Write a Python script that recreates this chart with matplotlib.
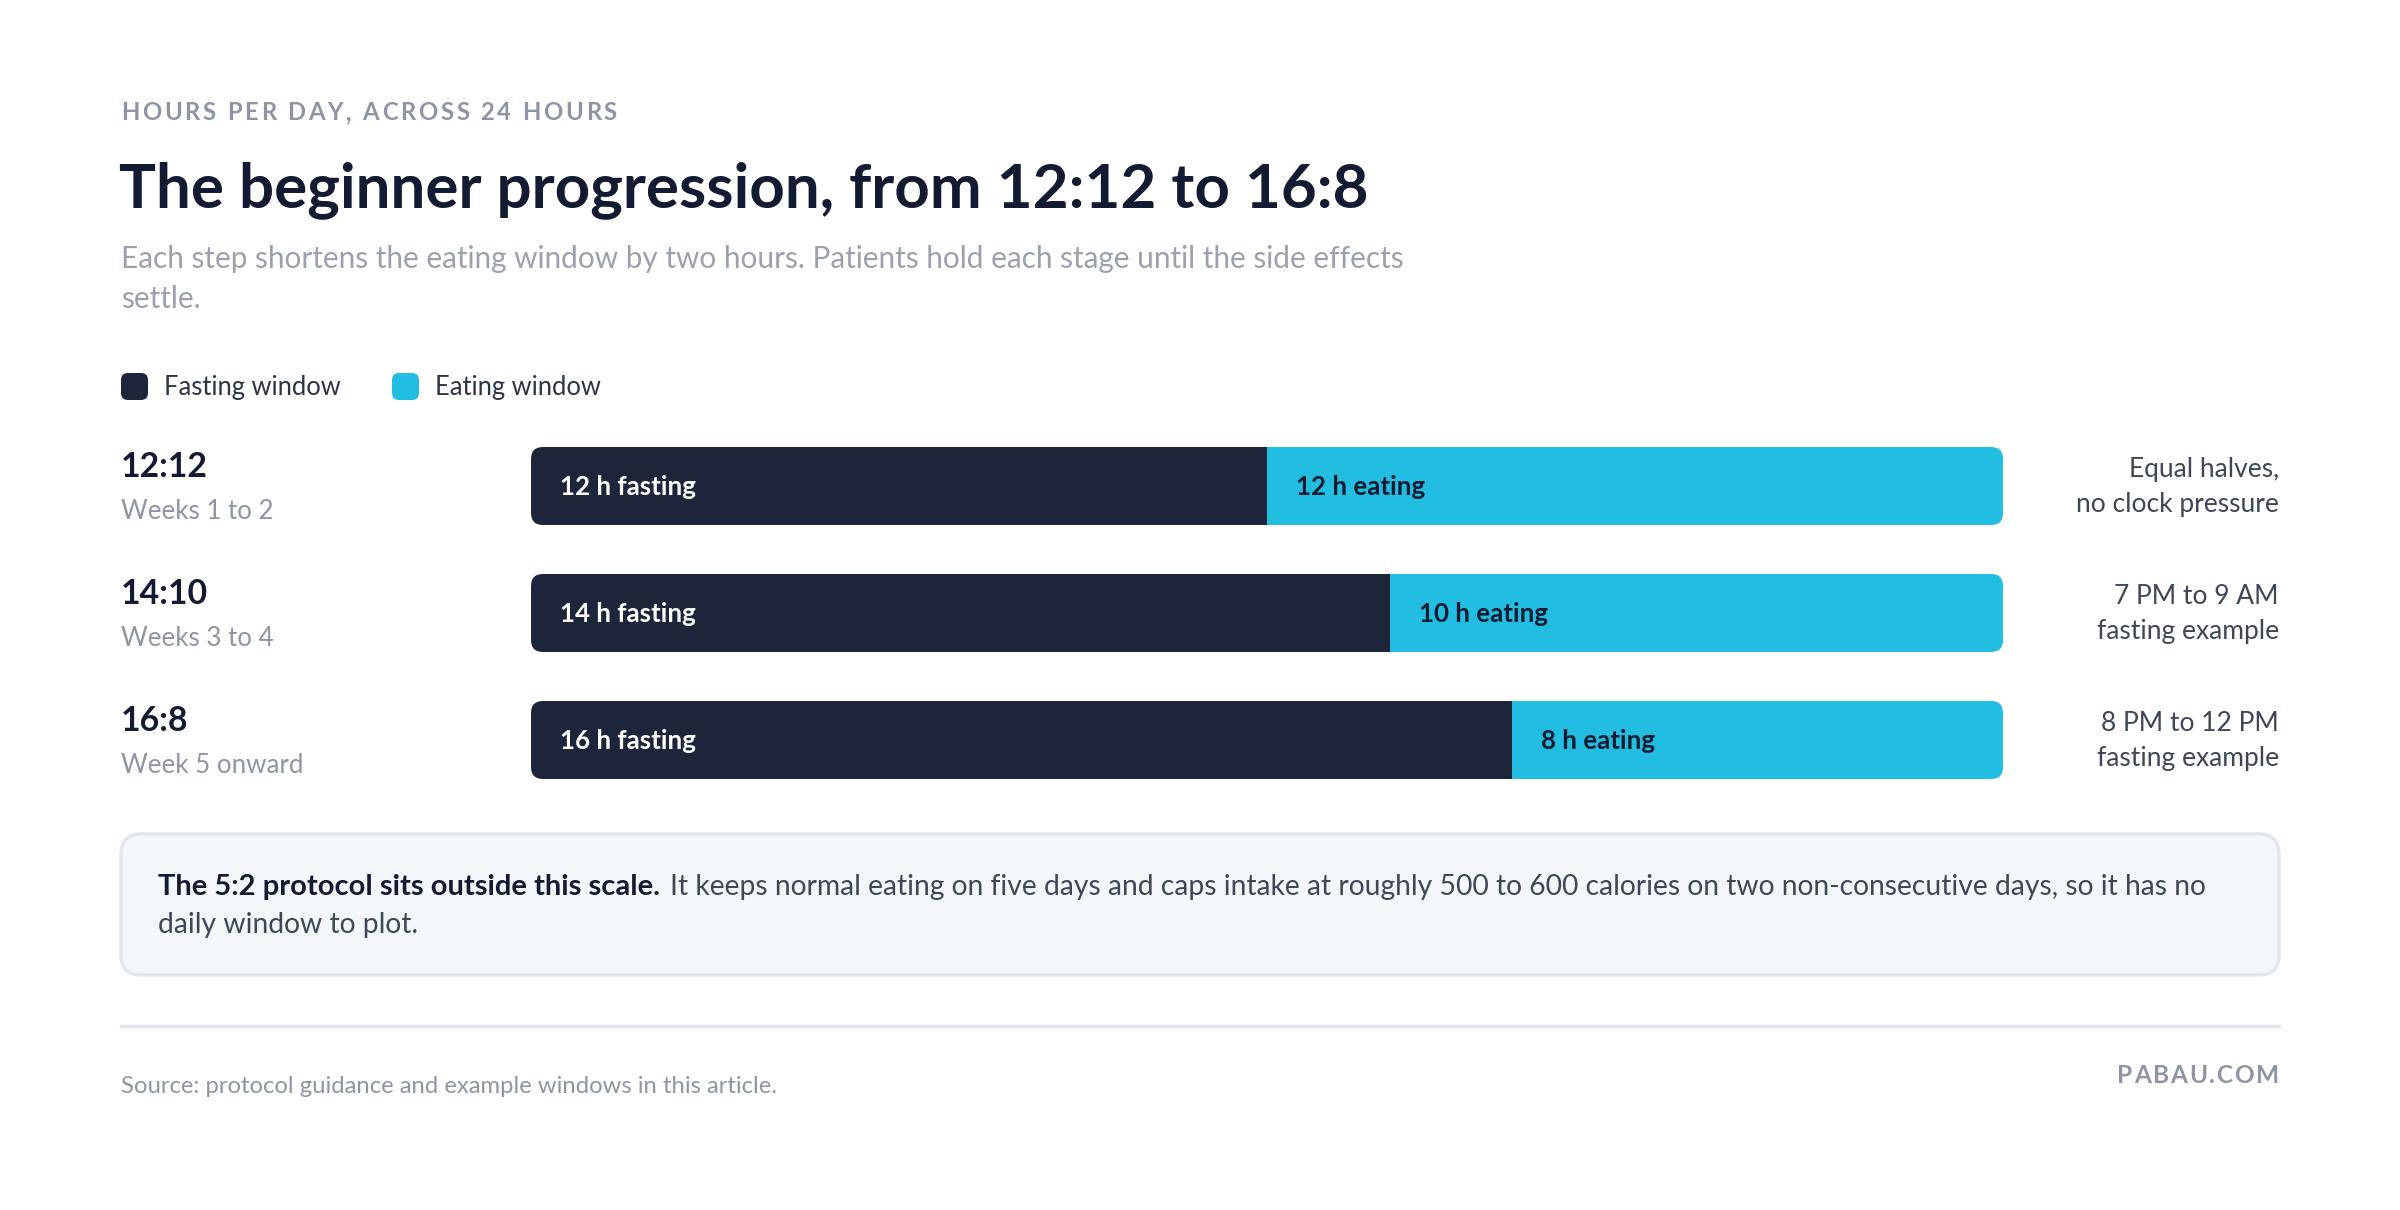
import matplotlib
matplotlib.use("Agg")
import matplotlib.pyplot as plt
from matplotlib.patches import FancyBboxPatch
from matplotlib.transforms import blended_transform_factory


# Data
stages = ["12:12", "14:10", "16:8"]
periods = ["Weeks 1 to 2", "Weeks 3 to 4", "Week 5 onward"]
fasting_hours = [12, 14, 16]
eating_hours = [12, 10, 8]
notes = [("Equal halves,", "no clock pressure"),
         ("7 PM to 9 AM", "fasting example"),
         ("8 PM to 12 PM", "fasting example")]

# Style
FAST = "#1c2539"
EAT = "#22bde0"
INK = "#131b33"
GREY = "#8d95a5"
BODY = "#3d4757"
W, H = 2400, 1210
DPI = 200

plt.rcParams["font.family"] = ["Lato", "DejaVu Sans"]


def spaced_text(fig, ax, x0, x1, y, s, **kw):
    """Draw s letter by letter so it spans x0..x1 (pixel coords of ax)."""
    r = fig.canvas.get_renderer()
    inv = ax.transData.inverted()
    arts, widths = [], []
    for ch in s:
        t = ax.text(x0, y, ch, va="baseline", **kw)
        e = t.get_window_extent(r)
        w = inv.transform((e.x1, 0))[0] - inv.transform((e.x0, 0))[0]
        if ch == " ":
            w = kw.get("fontsize", 10) * DPI / 72 * 0.25
        arts.append(t)
        widths.append(w)
    gap = (x1 - x0 - sum(widths)) / (len(s) - 1)
    x = x0
    for t, w in zip(arts, widths):
        t.set_x(x)
        x += w + gap


def main():
    fig = plt.figure(figsize=(W / DPI, H / DPI), dpi=DPI, facecolor="white")

    # Overlay axes in pixel coordinates for all the page furniture
    bg = fig.add_axes([0, 0, 1, 1], zorder=0)
    bg.set_xlim(0, W)
    bg.set_ylim(H, 0)
    bg.axis("off")
    fig.canvas.draw()

    spaced_text(fig, bg, 121, 617, 120, "HOURS PER DAY, ACROSS 24 HOURS",
                fontsize=8.6, fontweight="bold", color=GREY)
    bg.text(119, 207, "The beginner progression, from 12:12 to 16:8",
            fontsize=22.3, fontweight="bold", color=INK, va="baseline")
    bg.text(121, 268, "Each step shortens the eating window by two hours. "
            "Patients hold each stage until the side effects",
            fontsize=10.7, color="#9aa1ae", va="baseline")
    bg.text(121, 308, "settle.", fontsize=10.7, color="#9aa1ae",
            va="baseline")

    # Legend
    for x0, col, lab in [(121, FAST, "Fasting window"),
                         (392, EAT, "Eating window")]:
        bg.add_patch(FancyBboxPatch((x0 + 4, 377), 19, 19,
                                    boxstyle="round,pad=4,rounding_size=7",
                                    fc=col, ec="none"))
        bg.text(x0 + 43, 395, lab, fontsize=9.2, color="#2c3545",
                va="baseline")

    # Note box
    bg.add_patch(FancyBboxPatch((121, 834), 2158, 141,
                                boxstyle="round,pad=0,rounding_size=20",
                                fc="#f3f7fa", ec="#e2e6ea", lw=1.2))
    bold = bg.text(158, 895, "The 5:2 protocol sits outside this scale.",
                   fontsize=10.5, fontweight="bold", color=INK,
                   va="baseline")
    fig.canvas.draw()
    ext = bold.get_window_extent(fig.canvas.get_renderer())
    x_end = bg.transData.inverted().transform((ext.x1, ext.y0))[0]
    bg.text(x_end + 10, 895,
            "It keeps normal eating on five days and caps intake at roughly "
            "500 to 600 calories on two non-consecutive days, so it has no",
            fontsize=10.2, color=BODY, va="baseline")
    bg.text(158, 933, "daily window to plot.", fontsize=10.2, color=BODY,
            va="baseline")

    # Footer
    bg.plot([121, 2279], [1026, 1026], color="#e3e6ea", lw=1.2)
    bg.text(121, 1093, "Source: protocol guidance and example windows in "
            "this article.", fontsize=8.6, color=GREY, va="baseline")
    spaced_text(fig, bg, 2117, 2279, 1083, "PABAU.COM", fontsize=8.8,
                fontweight="bold", color=GREY)

    # Bar axes: 24 hours wide, one unit per row
    ax = fig.add_axes([531 / W, 1 - 803.5 / H, 1472 / W, 381 / H], zorder=1)
    ax.set_xlim(0, 24)
    ax.set_ylim(2.5, -0.5)
    ax.axis("off")
    ax.patch.set_alpha(0)

    bar_h = 78 / 127
    px_x = 1472 / 24
    px_y = 127
    r = 12 / px_x
    rows = list(range(len(stages)))

    fb = ax.barh(rows, fasting_hours, height=bar_h, color=FAST)
    eb = ax.barh(rows, eating_hours, left=fasting_hours, height=bar_h,
                 color=EAT)

    for i in rows:
        total = fasting_hours[i] + eating_hours[i]
        clip = FancyBboxPatch((0, i - bar_h / 2), total, bar_h,
                              boxstyle=f"round,pad=0,rounding_size={r}",
                              mutation_aspect=px_x / px_y,
                              transform=ax.transData, fc="none", ec="none")
        ax.add_patch(clip)
        fb[i].set_clip_path(clip)
        eb[i].set_clip_path(clip)

        ax.annotate(f"{fasting_hours[i]} h fasting", (0, i),
                    xytext=(29, -9), textcoords="offset pixels",
                    fontsize=9.3, fontweight="bold", color="white",
                    va="baseline")
        ax.annotate(f"{eating_hours[i]} h eating", (fasting_hours[i], i),
                    xytext=(29, -9), textcoords="offset pixels",
                    fontsize=9.3, fontweight="bold", color=INK,
                    va="baseline")

    # Row labels on the left and notes on the right
    tr = blended_transform_factory(fig.transFigure, ax.transData)
    for i in rows:
        ax.annotate(stages[i], (121 / W, i), xycoords=tr,
                    xytext=(0, 9), textcoords="offset pixels",
                    fontsize=12.2, fontweight="bold", color=INK,
                    va="baseline")
        ax.annotate(periods[i], (121 / W, i), xycoords=tr,
                    xytext=(0, -33), textcoords="offset pixels",
                    fontsize=9.3, color=GREY, va="baseline")
        ax.annotate(notes[i][0], (2279 / W, i), xycoords=tr,
                    xytext=(0, 9), textcoords="offset pixels",
                    fontsize=9.5, color=BODY, va="baseline", ha="right")
        ax.annotate(notes[i][1], (2279 / W, i), xycoords=tr,
                    xytext=(0, -26), textcoords="offset pixels",
                    fontsize=9.5, color=BODY, va="baseline", ha="right")

    fig.savefig("out.png", dpi=DPI, facecolor="white")


if __name__ == "__main__":
    main()
